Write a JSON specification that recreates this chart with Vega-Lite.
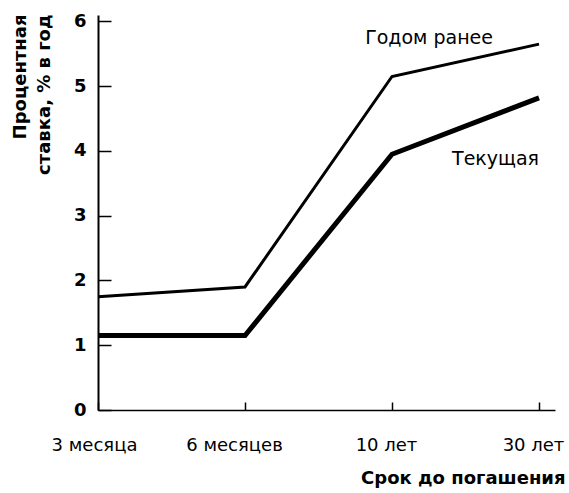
{
  "$schema": "https://vega.github.io/schema/vega-lite/v6.json",
  "width": 457,
  "height": 395,
  "autosize": {"type": "none"},
  "padding": {"left": 98, "top": 15, "right": 14, "bottom": 83},
  "background": "white",
  "config": {
    "view": {"stroke": null},
    "font": "DejaVu Sans",
    "axis": {"grid": false, "domainColor": "black", "tickColor": "black", "labelColor": "black", "titleColor": "black"}
  },
  "datasets": {
    "curves": [
      {"term": "3 месяца", "series": "Годом ранее", "rate": 1.75},
      {"term": "6 месяцев", "series": "Годом ранее", "rate": 1.9},
      {"term": "10 лет", "series": "Годом ранее", "rate": 5.15},
      {"term": "30 лет", "series": "Годом ранее", "rate": 5.65},
      {"term": "3 месяца", "series": "Текущая", "rate": 1.15},
      {"term": "6 месяцев", "series": "Текущая", "rate": 1.15},
      {"term": "10 лет", "series": "Текущая", "rate": 3.95},
      {"term": "30 лет", "series": "Текущая", "rate": 4.82}
    ],
    "labels": [
      {"term": "30 лет", "rate": 5.75, "label": "Годом ранее"},
      {"term": "30 лет", "rate": 3.88, "label": "Текущая"}
    ]
  },
  "encoding": {
    "x": {
      "field": "term",
      "type": "ordinal",
      "sort": ["3 месяца", "6 месяцев", "10 лет", "30 лет"],
      "scale": {"type": "point", "domain": ["3 месяца", "6 месяцев", "10 лет", "30 лет"], "padding": 0.0544, "align": 0},
      "axis": {
        "title": "Срок до погашения",
        "titleFont": "DejaVu Sans",
        "titleFontWeight": "bold",
        "titleFontSize": 18,
        "titleAnchor": "end",
        "titleAlign": "right",
        "titleBaseline": "alphabetic",
        "titleX": 467,
        "titleY": 73,
        "labelAngle": 0,
        "labelFontSize": 18,
        "labelBaseline": "alphabetic",
        "labelPadding": 48,
        "labelOffset": {"expr": "datum.value === '6 месяцев' ? -11 : (datum.value === '3 месяца' ? -4 : -6)"},
        "tickSize": -8,
        "tickWidth": 1.5,
        "domainWidth": 1.5
      }
    },
    "y": {
      "field": "rate",
      "type": "quantitative",
      "scale": {"domain": [0, 6.1], "nice": false, "zero": true},
      "axis": {
        "title": ["Процентная", "ставка, % в год"],
        "titleFontWeight": "bold",
        "titleFontSize": 18,
        "titleAngle": -90,
        "titleAlign": "right",
        "titleAnchor": "end",
        "titleBaseline": "top",
        "titleX": -87,
        "titleY": -1,
        "titleLineHeight": 24,
        "values": [0, 1, 2, 3, 4, 5, 6],
        "labelFontSize": 18,
        "labelFontWeight": "bold",
        "labelPadding": 25,
        "tickSize": -13,
        "tickWidth": 1.5,
        "domainWidth": 2
      }
    }
  },
  "layer": [
    {
      "data": {"name": "curves"},
      "mark": {"type": "line", "color": "black", "strokeJoin": "miter"},
      "encoding": {
        "detail": {"field": "series"},
        "strokeWidth": {"field": "series", "type": "nominal", "scale": {"domain": ["Годом ранее", "Текущая"], "range": [3, 5]}, "legend": null}
      }
    },
    {
      "data": {"name": "labels"},
      "transform": [{"filter": "datum.label === 'Годом ранее'"}],
      "mark": {"type": "text", "align": "right", "baseline": "middle", "fontSize": 19, "color": "black", "dx": -46},
      "encoding": {"text": {"field": "label"}}
    },
    {
      "data": {"name": "labels"},
      "transform": [{"filter": "datum.label === 'Текущая'"}],
      "mark": {"type": "text", "align": "right", "baseline": "middle", "fontSize": 19, "color": "black"},
      "encoding": {"text": {"field": "label"}}
    }
  ]
}
